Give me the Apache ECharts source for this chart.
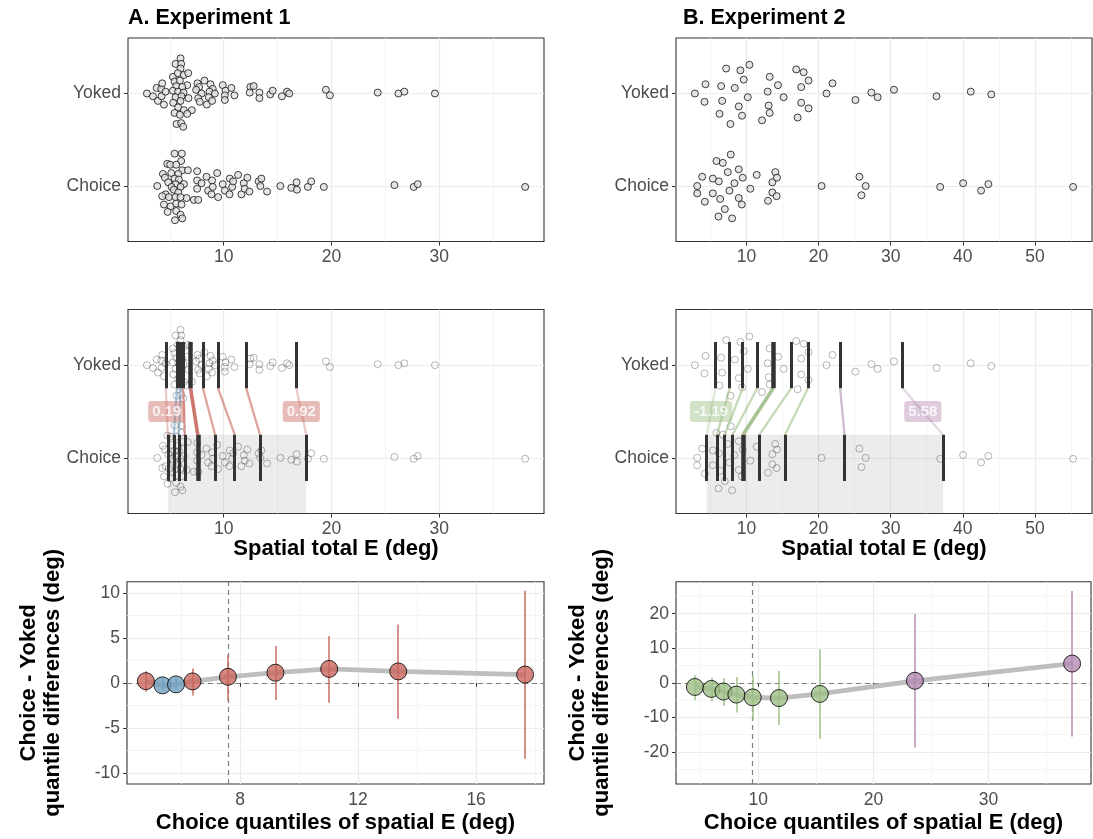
<!DOCTYPE html>
<html><head><meta charset="utf-8">
<script src="https://cdn.jsdelivr.net/npm/echarts@6/dist/echarts.min.js"></script>
<style>html,body{margin:0;padding:0;background:#fff}#c{width:1093px;height:839px}</style>
</head><body><div id="c"></div>
<script>
// ---------------- DATA ----------------
const groupLabels = ['Choice', 'Yoked'];           // y positions 1 and 2
const panelTitles = ['A. Experiment 1', 'B. Experiment 2'];
const xTitleTop = 'Spatial total E (deg)';
const xTitleBottom = 'Choice quantiles of spatial E (deg)';
const yTitleBottom = 'Choice - Yoked\nquantile differences (deg)';

// Experiment 1, individual values: [spatial E, vertical swarm offset]
const e1Yoked = [[2.87,0.00],[3.43,-0.03],[3.77,0.06],[3.89,-0.08],[4.20,0.05],[4.29,0.11],[4.23,-0.03],[4.45,-0.12],[4.60,0.02],
 [5.99,0.38],[5.53,0.32],[6.05,0.32],[5.99,0.27],[5.28,0.18],[5.74,0.22],[6.30,0.20],[6.70,0.22],[5.44,0.13],[5.93,0.14],[6.61,0.09],[5.59,0.08],[6.15,0.07],[5.28,0.03],[5.77,0.02],[6.27,0.01],[5.53,-0.04],[6.08,-0.03],[6.73,-0.05],[5.31,-0.10],[5.99,-0.08],[5.77,-0.15],[6.30,-0.18],[7.04,-0.18],[5.44,-0.21],[5.93,-0.23],[6.61,-0.22],[5.62,-0.33],[6.05,-0.32],[6.24,-0.36],
 [7.56,0.11],[7.72,0.07],[8.21,0.14],[7.44,0.04],[7.94,0.00],[7.63,-0.05],[7.78,-0.09],[8.43,-0.12],[8.77,0.10],[8.98,0.05],[8.68,0.02],[9.17,0.00],[8.61,-0.04],[8.92,-0.08],
 [9.91,0.09],[10.16,0.03],[10.10,-0.02],[10.10,-0.07],[10.71,0.06],[10.99,-0.02],
 [12.47,0.07],[12.78,0.08],[12.41,0.01],[13.31,0.01],[13.31,-0.05],[14.32,-0.01],[14.54,0.03],[15.40,-0.03],[15.87,0.02],[16.08,0.00],[19.48,0.04],[19.85,-0.02],[24.29,0.01],[26.21,0.00],[26.76,0.02],[29.60,0.00]];
const e1Choice = [[5.44,0.35],[6.11,0.35],[6.05,0.27],[4.76,0.24],[5.03,0.23],[5.59,0.23],[6.15,0.17],[6.67,0.17],[7.53,0.16],[4.36,0.13],[5.13,0.14],[5.78,0.13],[4.54,0.09],[4.85,0.04],[5.44,0.08],[5.84,0.07],[5.53,0.02],[6.30,0.02],[5.16,-0.01],[5.99,-0.01],[3.83,0.00],[5.37,-0.04],[5.78,-0.07],[4.60,-0.09],[4.29,-0.11],[4.91,-0.12],[5.53,-0.12],[6.55,-0.13],[5.99,-0.12],[7.23,-0.15],[7.63,-0.15],[4.45,-0.20],[5.07,-0.22],[5.59,-0.19],[6.08,-0.20],[4.79,-0.28],[5.59,-0.27],[5.99,-0.31],[5.47,-0.37],[6.15,-0.35],
 [7.53,0.06],[7.53,-0.03],[7.94,0.03],[8.40,0.10],[8.55,-0.05],[8.92,0.06],[8.98,-0.01],[9.39,0.14],[8.86,-0.09],[9.48,-0.12],[9.91,0.02],[10.10,-0.05],[10.56,0.08],[10.53,-0.09],[10.78,-0.01],[10.87,0.05],[11.33,0.12],[11.64,-0.09],[11.86,0.03],[11.95,-0.03],[12.19,0.09],[12.38,-0.06],[13.24,0.05],[13.49,0.08],[13.40,0.00],[14.02,-0.06],[15.25,0.00],[16.27,-0.02],[16.76,0.04],[16.79,-0.04],[17.81,-0.01],[18.12,0.05],[19.29,-0.01],[25.84,0.01],[27.63,-0.01],[28.00,0.02],[37.97,-0.01]];

// Experiment 2, individual values
const e2Yoked = [[2.86,0.00],[4.33,0.10],[4.19,-0.09],[6.50,0.08],[6.64,-0.08],[6.27,-0.22],[7.19,0.27],[8.39,0.06],[9.17,0.25],[9.63,0.15],[8.94,-0.14],[9.40,-0.24],[7.79,-0.33],[10.19,-0.04],[10.42,0.31],[12.95,0.02],[13.23,0.18],[13.09,-0.13],[13.23,-0.21],[12.17,-0.29],[14.38,0.09],[15.16,-0.04],[16.91,0.26],[17.93,0.23],[18.62,0.14],[17.60,0.07],[17.60,-0.10],[18.62,-0.16],[17.10,-0.26],[21.11,0.00],[21.94,0.11],[25.12,-0.07],[27.33,0.01],[28.20,-0.04],[30.46,0.04],[36.36,-0.03],[41.11,0.02],[43.96,-0.01]];
const e2Choice = [[3.18,0.00],[3.18,-0.08],[3.87,0.10],[4.24,-0.17],[5.35,0.08],[5.35,-0.08],[5.85,0.27],[6.18,0.05],[6.36,-0.14],[6.13,-0.33],[6.73,0.25],[7.01,-0.25],[7.42,0.15],[7.83,0.34],[7.65,-0.05],[8.02,-0.35],[8.34,0.03],[8.94,0.18],[9.49,0.09],[8.94,-0.13],[9.36,-0.20],[10.55,-0.03],[11.43,0.12],[13.00,-0.16],[13.60,0.04],[14.01,0.15],[14.24,0.09],[13.60,-0.07],[14.19,-0.11],[20.42,0.00],[25.67,0.10],[26.54,0.00],[25.95,-0.10],[36.87,-0.01],[40.05,0.03],[42.54,-0.05],[43.55,0.02],[55.30,-0.01]];

// Deciles (0.1 ... 0.9) and Choice - Yoked differences with confidence intervals
const e1ChoiceQ = [4.81, 5.37, 5.83, 6.39, 7.59, 9.20, 11.02, 13.36, 17.66];
const e1YokedQ  = [4.62, 5.65, 6.00, 6.23, 6.92, 8.07, 9.47, 12.09, 16.74];
const e1Diff    = [0.19, -0.28, -0.17, 0.16, 0.67, 1.13, 1.55, 1.27, 0.92];
const e1CiLo    = [-1.0, -0.8, -0.7, -1.4, -2.0, -1.9, -2.2, -4.0, -8.45];
const e1CiHi    = [1.3, 0.5, 0.6, 1.6, 3.1, 4.1, 5.2, 6.5, 10.25];

const e2ChoiceQ = [4.50, 5.93, 6.98, 8.10, 9.52, 11.80, 15.35, 23.60, 37.25];
const e2YokedQ  = [5.69, 7.68, 9.48, 11.50, 13.72, 16.20, 18.55, 23.00, 31.67];
const e2Diff    = [-1.19, -1.75, -2.50, -3.40, -4.20, -4.40, -3.20, 0.60, 5.58];
const e2CiLo    = [-5.0, -5.3, -6.6, -8.6, -10.9, -12.2, -16.2, -18.7, -15.5];
const e2CiHi    = [2.2, 1.5, 1.4, 1.7, 2.2, 3.4, 9.7, 19.9, 26.6];

// Axis ticks
const e1TopTicks = [10, 20, 30], e1TopMinor = [5, 15, 25, 35];
const e2TopTicks = [10, 20, 30, 40, 50], e2TopMinor = [5, 15, 25, 35, 45, 55];
const e1BotXTicks = [8, 12, 16], e1BotXMinor = [6, 10, 14, 18];
const e2BotXTicks = [10, 20, 30], e2BotXMinor = [5, 15, 25, 35];
const e1BotYTicks = [-10, -5, 0, 5, 10], e1BotYMinor = [-7.5, -2.5, 2.5, 7.5];
const e2BotYTicks = [-20, -10, 0, 10, 20], e2BotYMinor = [-25, -15, -5, 5, 15, 25];

// ---------------- STYLE / LAYOUT ----------------
const FONT = '"Liberation Sans", Arial, Helvetica, sans-serif';
const TICK_C = '#4d4d4d';
const TICK_FS = 17.5;
const GRID_MAJOR = {color: '#ebebeb', width: 1.2};
const GRID_MINOR = {color: '#f3f3f3', width: 0.8};
const COL = {
  e1: {pos: '#c8675e', neg: '#6f9fc2', posBox: 'rgba(200,103,94,0.55)', negBox: 'rgba(111,159,194,0.55)'},
  e2: {pos: '#b48ab0', neg: '#9dbf87', posBox: 'rgba(180,138,176,0.55)', negBox: 'rgba(150,190,125,0.55)'}
};

const grids = [
  {left: 128, top: 38, width: 416, height: 203.5},
  {left: 128, top: 309.5, width: 416, height: 204},
  {left: 127, top: 581.7, width: 417, height: 202.3},
  {left: 676, top: 38, width: 416, height: 203.5},
  {left: 676, top: 309.5, width: 416, height: 204},
  {left: 676, top: 581.7, width: 415, height: 202.3}
].map(g => Object.assign({show: true, borderColor: '#333', borderWidth: 1.1, backgroundColor: '#fff', outerBoundsMode: 'none'}, g));

function xPair(gi, min, max, major, minor, name, gap) {
  const base = {type: 'value', gridIndex: gi, min: min, max: max, position: 'bottom'};
  return [
    Object.assign({}, base, {
      axisLine: {show: false},
      axisTick: {show: true, length: 4, customValues: major, lineStyle: {color: '#333', width: 1}},
      axisLabel: {show: true, customValues: major, color: TICK_C, fontSize: TICK_FS, fontFamily: FONT, margin: 7},
      splitLine: {show: true, lineStyle: GRID_MAJOR},
      name: name || '', nameLocation: 'middle', nameGap: gap || 26, nameMoveOverlap: false,
      nameTextStyle: {fontSize: 22, fontWeight: 'bold', color: '#000', fontFamily: FONT}
    }),
    Object.assign({}, base, {
      axisLine: {show: false}, axisTick: {show: false, customValues: minor},
      axisLabel: {show: false, customValues: minor},
      splitLine: {show: true, lineStyle: GRID_MINOR}
    })
  ];
}
function yCat(gi) {
  return {type: 'value', gridIndex: gi, min: 0.4, max: 2.6,
    axisLine: {show: false},
    axisTick: {show: true, length: 4, customValues: [1, 2], lineStyle: {color: '#333', width: 1}},
    axisLabel: {customValues: [1, 2], formatter: v => groupLabels[Math.round(v) - 1], color: TICK_C, fontSize: TICK_FS, fontFamily: FONT, margin: 7},
    splitLine: {show: true, lineStyle: GRID_MAJOR}};
}
function yPair(gi, lim, major, minor) {
  const base = {type: 'value', gridIndex: gi, min: -lim, max: lim};
  return [
    Object.assign({}, base, {
      axisLine: {show: false},
      axisTick: {show: true, length: 4, customValues: major, lineStyle: {color: '#333', width: 1}},
      axisLabel: {customValues: major, formatter: v => String(v), color: TICK_C, fontSize: TICK_FS, fontFamily: FONT, margin: 7},
      splitLine: {show: true, lineStyle: GRID_MAJOR},
      name: yTitleBottom, nameLocation: 'middle', nameRotate: 90, nameGap: 62, nameMoveOverlap: false,
      nameTextStyle: {fontSize: 22, fontWeight: 'bold', color: '#000', fontFamily: FONT, lineHeight: 24, align: 'center'}
    }),
    Object.assign({}, base, {
      axisLine: {show: false}, axisTick: {show: false, customValues: minor},
      axisLabel: {show: false, customValues: minor},
      splitLine: {show: true, lineStyle: GRID_MINOR}
    })
  ];
}

const xAxes = [].concat(
  xPair(0, 1.115, 39.72, e1TopTicks, e1TopMinor),
  xPair(1, 1.115, 39.72, e1TopTicks, e1TopMinor, xTitleTop, 24),
  xPair(2, 4.17, 18.30, e1BotXTicks, e1BotXMinor, xTitleBottom, 28),
  xPair(3, 0.24, 57.92, e2TopTicks, e2TopMinor),
  xPair(4, 0.24, 57.92, e2TopTicks, e2TopMinor, xTitleTop, 24),
  xPair(5, 2.86, 38.89, e2BotXTicks, e2BotXMinor, xTitleBottom, 28)
);
// x axis indices: grid g -> major 2g
const yAxes = [].concat(
  [yCat(0)], [yCat(1)], yPair(2, 11.25, e1BotYTicks, e1BotYMinor),
  [yCat(3)], [yCat(4)], yPair(5, 29.26, e2BotYTicks, e2BotYMinor)
);
// y axis indices: g0->0, g1->1, g2->2, g3->4, g4->5, g5->6

const series = [];
function swarm(xi, yi, pts, level, style, z) {
  series.push({type: 'scatter', xAxisIndex: xi, yAxisIndex: yi, symbol: 'circle', symbolSize: 7,
    silent: true, z: z, data: pts.map(p => [p[0], level + p[1]]), itemStyle: style});
}
const topStyle = {color: '#dedede', borderColor: '#111', borderWidth: 1};
const midStyle = {color: 'rgba(255,255,255,0)', borderColor: 'rgba(0,0,0,0.4)', borderWidth: 0.9};

function buildExperiment(k, gTop, gMid, gBot, yTop, yMid, yBot, yokedPts, choicePts, cQ, yQ, diff, lo, hi) {
  const col = COL[k];
  // top: beeswarm
  swarm(2 * gTop, yTop, yokedPts, 2, topStyle, 3);
  swarm(2 * gTop, yTop, choicePts, 1, topStyle, 3);
  // middle: faded points + deciles + links + labels
  swarm(2 * gMid, yMid, yokedPts, 2, midStyle, 3);
  series.push({type: 'scatter', xAxisIndex: 2 * gMid, yAxisIndex: yMid, symbol: 'circle', symbolSize: 7,
    silent: true, z: 3, data: choicePts.map(p => [p[0], 1 + p[1]]), itemStyle: midStyle,
    markArea: {silent: true, itemStyle: {color: 'rgba(128,128,128,0.15)'},
      data: [[{coord: [cQ[0], 0.4]}, {coord: [cQ[8], 1.25]}]]}});
  series.push({type: 'lines', coordinateSystem: 'cartesian2d', xAxisIndex: 2 * gMid, yAxisIndex: yMid, silent: true, z: 4,
    data: cQ.map((c, i) => ({coords: [[yQ[i], 1.75], [c, 1.25]],
      lineStyle: {color: diff[i] > 0 ? col.pos : col.neg, width: i === 4 ? 3.6 : 2.3,
        opacity: i === 4 ? 0.9 : (i === 0 || i === 8 ? 0.35 : 0.6)}}))});
  series.push({type: 'lines', coordinateSystem: 'cartesian2d', xAxisIndex: 2 * gMid, yAxisIndex: yMid, silent: true, z: 5,
    lineStyle: {color: '#333', opacity: 1},
    data: [].concat(
      cQ.map((c, i) => ({coords: [[c, 0.75], [c, 1.25]], lineStyle: {color: '#333', opacity: 1, width: i === 4 ? 4.5 : 3}})),
      yQ.map((c, i) => ({coords: [[c, 1.75], [c, 2.25]], lineStyle: {color: '#333', opacity: 1, width: i === 4 ? 4.5 : 3}})))});
  series.push({type: 'scatter', xAxisIndex: 2 * gMid, yAxisIndex: yMid, silent: true, z: 6, symbolSize: 1,
    itemStyle: {color: 'rgba(0,0,0,0)'},
    label: {show: true, position: 'inside', formatter: p => p.value[2].toFixed(2), color: '#fff', fontWeight: 'bold',
      fontSize: 15, fontFamily: FONT, padding: [3, 4, 2, 4], borderRadius: 3, lineHeight: 16},
    data: [0, 8].map(i => ({value: [(cQ[i] + yQ[i]) / 2, 1.5, diff[i]],
      label: {backgroundColor: diff[i] > 0 ? col.posBox : col.negBox}}))});
  // bottom: shift function
  series.push({type: 'line', xAxisIndex: 2 * gBot, yAxisIndex: yBot, silent: true, z: 3, symbol: 'none',
    data: cQ.map((c, i) => [c, diff[i]]), lineStyle: {color: '#bebebe', width: 4.8},
    markLine: {silent: true, symbol: 'none', z: 2, label: {show: false}, emphasis: {disabled: true},
      lineStyle: {type: [5, 4], color: '#7f7f7f', width: 1.2},
      data: [{yAxis: 0}, {xAxis: cQ[4]}]}});
  series.push({type: 'lines', coordinateSystem: 'cartesian2d', xAxisIndex: 2 * gBot, yAxisIndex: yBot, silent: true, z: 4,
    data: cQ.map((c, i) => ({coords: [[c, lo[i]], [c, hi[i]]],
      lineStyle: {color: diff[i] > 0 ? col.pos : col.neg, width: 1.6, opacity: 0.9}}))});
  series.push({type: 'scatter', xAxisIndex: 2 * gBot, yAxisIndex: yBot, silent: true, z: 5, symbol: 'circle', symbolSize: 17,
    data: cQ.map((c, i) => ({value: [c, diff[i]], itemStyle: {color: diff[i] > 0 ? col.pos : col.neg}})),
    itemStyle: {borderColor: '#000', borderWidth: 1}});
}
buildExperiment('e1', 0, 1, 2, 0, 1, 2, e1Yoked, e1Choice, e1ChoiceQ, e1YokedQ, e1Diff, e1CiLo, e1CiHi);
buildExperiment('e2', 3, 4, 5, 4, 5, 6, e2Yoked, e2Choice, e2ChoiceQ, e2YokedQ, e2Diff, e2CiLo, e2CiHi);

const chart = echarts.init(document.getElementById('c'), null, {renderer: 'canvas'});
chart.setOption({
  animation: false,
  backgroundColor: '#fff',
  title: [
    {text: panelTitles[0], left: 128, top: 7, padding: 0, textStyle: {fontSize: 21.5, fontWeight: 'bold', color: '#000', fontFamily: FONT}},
    {text: panelTitles[1], left: 683, top: 7, padding: 0, textStyle: {fontSize: 21.5, fontWeight: 'bold', color: '#000', fontFamily: FONT}}
  ],
  grid: grids,
  xAxis: xAxes,
  yAxis: yAxes,
  series: series
});
</script></body></html>
